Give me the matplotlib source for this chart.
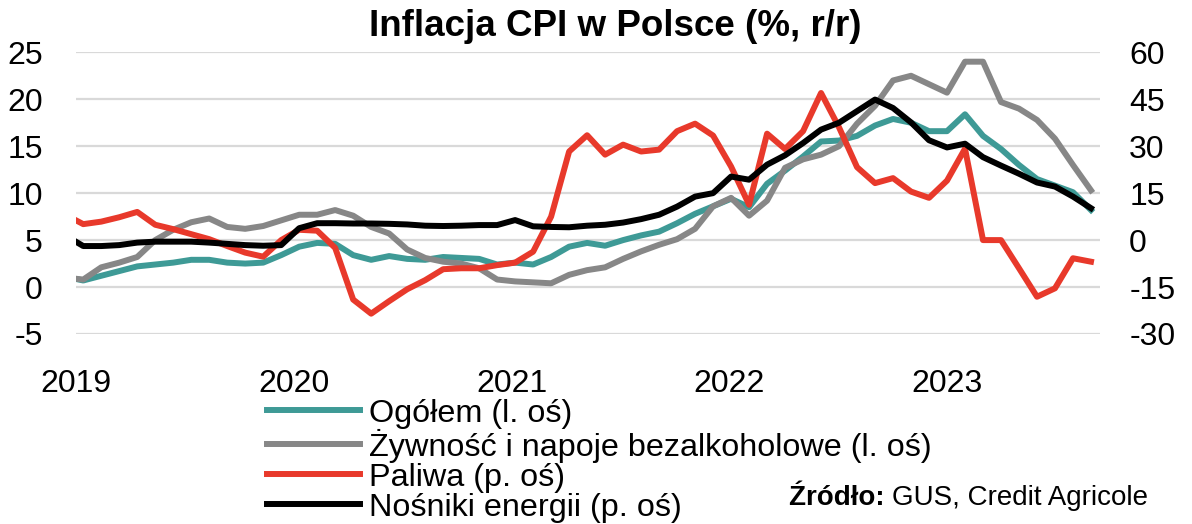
import numpy as np
import pandas as pd
import matplotlib
matplotlib.use('Agg')
import matplotlib.pyplot as plt

plt.rcParams['font.family'] = ['Liberation Sans', 'DejaVu Sans']
plt.rcParams['axes.unicode_minus'] = False

# monthly data, Dec 2018 .. Sep 2023 (Dec 2018 is only there so the line reaches the left edge)
months = pd.period_range('2018-12', '2023-09', freq='M')

ogolem = [1.1,
          0.7, 1.2, 1.7, 2.2, 2.4, 2.6, 2.9, 2.9, 2.6, 2.5, 2.6, 3.4,
          4.3, 4.7, 4.6, 3.4, 2.9, 3.3, 3.0, 2.9, 3.2, 3.1, 3.0, 2.4,
          2.6, 2.4, 3.2, 4.3, 4.7, 4.4, 5.0, 5.5, 5.9, 6.8, 7.8, 8.6,
          9.4, 8.5, 11.0, 12.4, 13.9, 15.5, 15.6, 16.1, 17.2, 17.9, 17.5, 16.6,
          16.6, 18.4, 16.1, 14.7, 13.0, 11.5, 10.8, 10.1, 8.2]

zywnosc = [1.0,
           0.8, 2.1, 2.6, 3.2, 5.0, 6.1, 6.9, 7.3, 6.4, 6.2, 6.5, 7.1,
           7.7, 7.7, 8.2, 7.6, 6.4, 5.7, 4.0, 3.1, 2.7, 2.5, 2.0, 0.8,
           0.6, 0.5, 0.4, 1.3, 1.8, 2.1, 3.0, 3.8, 4.5, 5.1, 6.2, 8.6,
           9.5, 7.6, 9.2, 12.7, 13.6, 14.1, 15.0, 17.4, 19.3, 22.0, 22.5, 21.6,
           20.7, 24.0, 24.0, 19.7, 19.0, 17.8, 15.8, 13.0, 10.3]

paliwa = [8.1,
          5.1, 5.9, 7.3, 9.0, 4.9, 3.5, 1.9, 0.3, -1.9, -4.0, -5.3, 0.0,
          3.3, 3.0, -2.5, -19.0, -23.5, -19.5, -15.7, -12.8, -9.3, -9.0, -9.0, -8.0,
          -7.2, -3.7, 7.5, 28.3, 33.5, 27.3, 30.5, 28.3, 28.9, 34.8, 37.2, 33.4,
          23.5, 11.3, 34.0, 29.1, 34.8, 47.0, 36.0, 23.3, 18.2, 19.8, 15.5, 13.5,
          19.0, 29.2, 0.0, 0.0, -9.0, -18.1, -15.4, -5.8, -6.9]

energia = [1.5,
           -1.9, -1.9, -1.6, -0.8, -0.5, -0.5, -0.5, -0.8, -1.2, -1.6, -1.8, -1.6,
           3.8, 5.4, 5.4, 5.3, 5.3, 5.2, 5.0, 4.6, 4.5, 4.6, 4.8, 4.8,
           6.4, 4.4, 4.2, 4.1, 4.6, 4.9, 5.6, 6.7, 8.1, 10.7, 13.9, 15.0,
           20.3, 19.3, 24.1, 27.1, 31.0, 35.3, 37.5, 41.2, 44.9, 42.2, 37.6, 31.9,
           29.6, 30.8, 26.5, 23.8, 21.2, 18.4, 17.1, 13.9, 10.2]

labels = ['Ogółem (l. oś)', 'Żywność i napoje bezalkoholowe (l. oś)',
          'Paliwa (p. oś)', 'Nośniki energii (p. oś)']
colors = ['#3E9A96', '#878787', '#E8392B', '#000000']
years = ['2019', '2020', '2021', '2022', '2023']

# months counted from Jan 2019; points sit a little after the month start
x = np.arange(len(months)) - 1 + 0.4

fig = plt.figure(figsize=(11.92, 5.24), dpi=100)
ax = fig.add_axes([0.0638, 0.3626, 0.859, 0.5376])
ax2 = ax.twinx()

lw = 4.3
l1, = ax.plot(x, ogolem, color=colors[0], lw=lw, solid_joinstyle='round', zorder=3)
l2, = ax.plot(x, zywnosc, color=colors[1], lw=lw, solid_joinstyle='round', zorder=3)
l3, = ax2.plot(x, paliwa, color=colors[2], lw=lw, solid_joinstyle='round')
l4, = ax2.plot(x, energia, color=colors[3], lw=lw, solid_joinstyle='round')

ax.set_xlim(0, 56.9)
ax.set_ylim(-5, 25)
ax2.set_ylim(-30, 60)
ax.set_yticks(np.arange(-5, 26, 5))
ax2.set_yticks(np.arange(-30, 61, 15))
ax.set_xticks(np.arange(len(years)) * 12.1)
ax.set_xticklabels(years)

ax.grid(axis='y', color='#D9D9D9', lw=1.6)
ax.set_axisbelow(True)
for a in (ax, ax2):
    for s in a.spines.values():
        s.set_visible(False)
    a.tick_params(length=0, labelsize=23)
ax.tick_params(axis='y', pad=24)
ax.tick_params(axis='x', pad=25)
ax2.tick_params(axis='y', pad=21)

fig.text(0.516, 1 - 36.5 / 524, 'Inflacja CPI w Polsce (%, r/r)', ha='center',
         va='baseline', fontsize=26.5, fontweight='bold')

fig.legend([l1, l2, l3, l4], labels, loc='upper left', bbox_to_anchor=(0.2237, 0.2395),
           frameon=False, fontsize=23.3, handlelength=2.9, handletextpad=0.25,
           labelspacing=0.0, borderpad=0, borderaxespad=0)

src = fig.text(0.963, 1 - 505 / 524, 'GUS, Credit Agricole', ha='right', va='baseline', fontsize=20)
ax.annotate('Źródło: ', xy=(0, 0), xycoords=src, ha='right', va='bottom',
            fontsize=20, fontweight='bold', annotation_clip=False)

fig.savefig('out.png', dpi=100)
